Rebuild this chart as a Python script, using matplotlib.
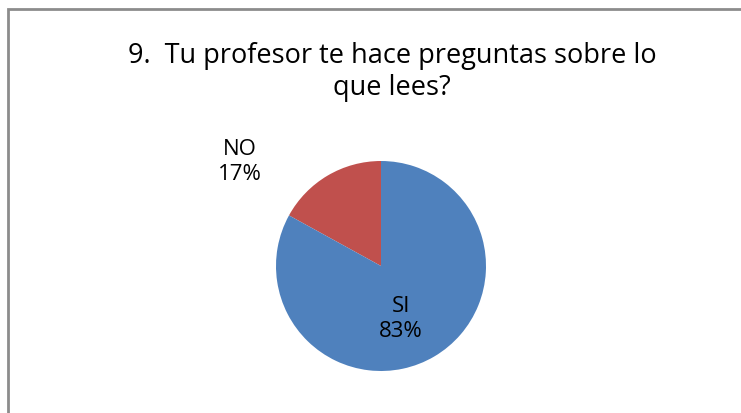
import matplotlib.pyplot as plt
from matplotlib.patches import Rectangle

labels = ["NO", "SI"]
values = [17, 83]
colors = ["#C0504D", "#4F81BD"]
title = "9.  Tu profesor te hace preguntas sobre lo\nque lees?"

W, H = 741, 414
fig = plt.figure(figsize=(W / 100, H / 100), dpi=100)
plt.rcParams['font.family'] = ['Open Sans', 'DejaVu Sans']

# chart border (right/bottom edges fall outside the picture)
fig.patches.append(Rectangle((8 / W, -0.1), 1.2, 1 - 10 / H + 0.1, transform=fig.transFigure,
                             fill=False, edgecolor="#8c8c8c", linewidth=2))

fig.text(392 / W, 1 - 72 / H, title, ha="center", va="center", fontsize=19.5,
         linespacing=1.2, color="#000000")

# pie
cx, cy, r = 381, 267, 105
ax = fig.add_axes([(cx - r) / W, (H - cy - r) / H, 2 * r / W, 2 * r / H])
ax.pie(values, colors=colors, startangle=90, counterclock=True,
       wedgeprops=dict(linewidth=0))
ax.set_xlim(-1, 1)
ax.set_ylim(-1, 1)
ax.set_aspect("equal")
ax.axis("off")

ax.text(-1.34, 1.0, f"{labels[0]}\n{values[0]}%", ha="center", va="center",
        fontsize=16, linespacing=1.25, clip_on=False)
ax.text(0.19, -0.5, f"{labels[1]}\n{values[1]}%", ha="center", va="center",
        fontsize=16, linespacing=1.25)

fig.savefig("out.png", dpi=100)
